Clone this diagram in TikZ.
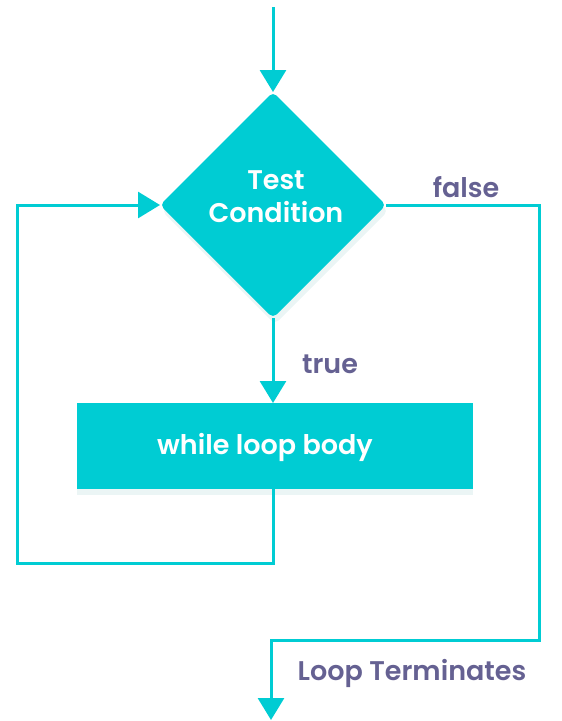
\documentclass[tikz,border=0pt]{standalone}
\usepackage{fontspec}
\setmainfont{Poppins}[BoldFont={Poppins SemiBold}]
\usepackage{xcolor}
\usepackage{tikz}
\usetikzlibrary{shapes,arrows.meta,positioning,calc,shadows}
\definecolor{flowteal}{HTML}{00CCD3}
\definecolor{lblpurple}{HTML}{656192}

\begin{document}
\begin{tikzpicture}[x=1pt,y=-1pt,
  every node/.style={outer sep=0pt,inner sep=0pt},
  cond/.style={diamond,fill=flowteal,minimum width=226pt,minimum height=226pt,
    rounded corners=5pt,drop shadow={shadow xshift=2pt,shadow yshift=-6pt,opacity=0.08,fill=teal}},
  body/.style={rectangle,fill=flowteal,minimum width=396pt,minimum height=86pt,
    drop shadow={shadow xshift=0pt,shadow yshift=-6pt,opacity=0.08,fill=teal}},
  boxtext/.style={text=white,font=\fontsize{27}{33}\selectfont\bfseries,align=center},
  lbl/.style={text=lblpurple,font=\fontsize{27}{30}\selectfont\bfseries},
  flow/.style={draw=flowteal,line width=3pt,-{Triangle[length=22pt,width=26pt]}}]
\useasboundingbox (0,0) rectangle (562,721);
% blocks
\node (cond) [cond] at (273,205) {};
\node (condtext) [boxtext] at (276,197) {Test\\Condition};
\node (body) [body] at (275,446) {};
\node (bodytext) [boxtext] at (265,447) {while loop body};
% labels
\node (lfalse) [lbl] at (466,187) {false};
\node (ltrue) [lbl] at (330,364) {true};
\node (lend) [lbl] at (412,673) {Loop Terminates};
% points for the lines
\coordinate (start) at (273,7);
\coordinate (bl) at (17,563);
\coordinate (fr) at (539,640);
\coordinate (exit) at (271,720);
% connectors
\draw [flow] (start) -- (cond.north);
\draw [flow] (cond.south) -- (cond.south |- body.north);
\draw [flow] (cond.south |- body.south) |- (bl) |- (cond.west);
\draw [flow] (cond.east) -| (fr) -| (exit);
\end{tikzpicture}
\end{document}
